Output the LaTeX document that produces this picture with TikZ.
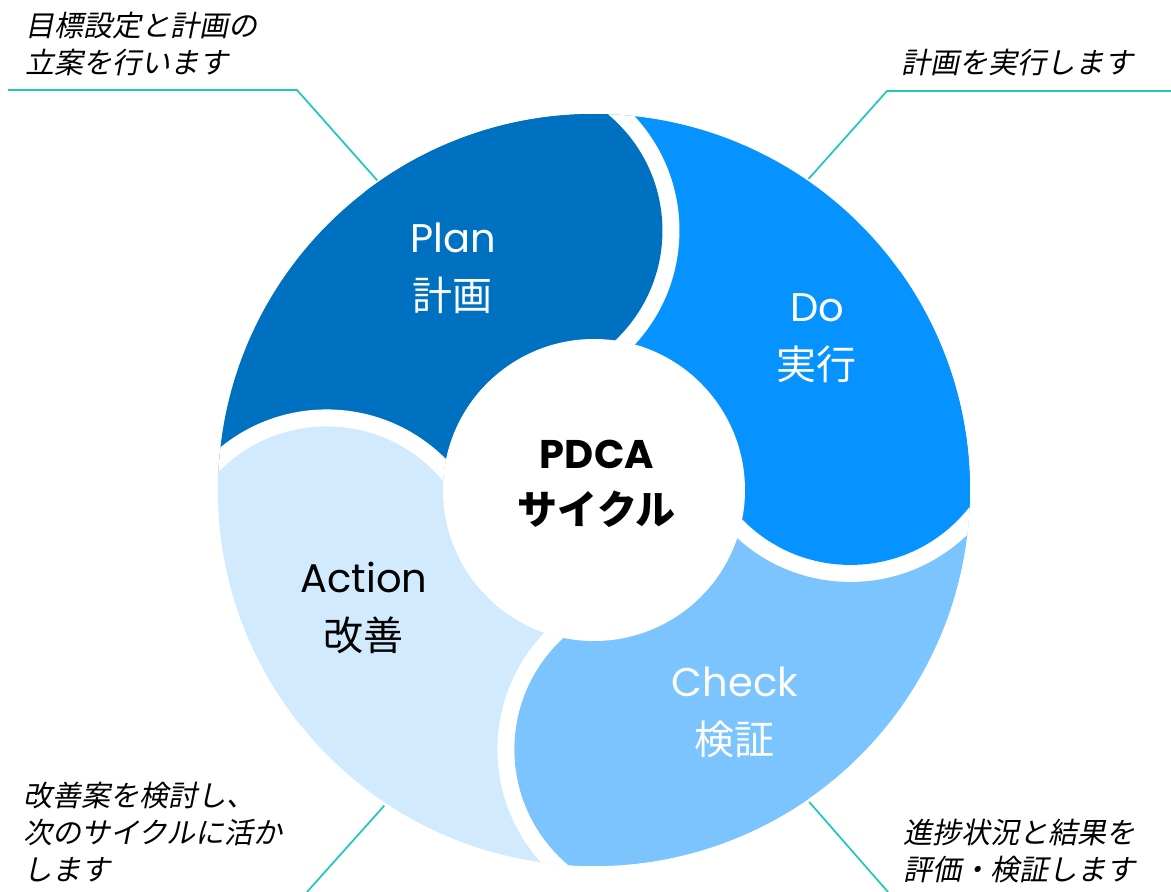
\documentclass[tikz,border=0pt]{standalone}
\usepackage{fontspec}
\setmainfont{Poppins}
\newfontfamily\jpfont{Noto Sans CJK JP}
\newfontfamily\jpslant{Noto Sans CJK JP}[FakeSlant=0.2]
\usetikzlibrary{calc}
\definecolor{pdcaplan}{HTML}{0070C0}
\definecolor{pdcado}{HTML}{0793FF}
\definecolor{pdcacheck}{HTML}{7BC4FD}
\definecolor{pdcaaction}{HTML}{D2EAFD}
\definecolor{pdcateal}{HTML}{1CC8BA}
% one ring quarter between two boundaries (outer/inner angles)
\newcommand\segcore[4]{(#1:376pt) arc[start angle=#1, end angle=#3, radius=376pt] -- (#4:151pt) arc[start angle=#4, end angle=#2, radius=151pt] -- cycle}

\begin{document}
\begin{tikzpicture}[
  x=1pt, y=1pt,
  seglbl/.style={align=center, inner sep=0pt, font=\fontsize{40}{58}\selectfont},
  hubtxt/.style={align=center, inner sep=0pt, font=\fontsize{40}{56}\selectfont\bfseries},
  note/.style={align=left, anchor=west, inner sep=0pt, font=\jpslant\fontsize{29}{37}\selectfont},
  leader/.style={draw=pdcateal, line width=1.7pt}
]
\useasboundingbox (-594,-402) rectangle (577,490);

% boundaries between the quarters
\coordinate (o1) at (87.9:376pt);  \coordinate (i1) at (82:151pt);
\coordinate (o2) at (-2.7:376pt);  \coordinate (i2) at (-11.4:151pt);
\coordinate (o3) at (-94:376pt);   \coordinate (i3) at (-101.8:151pt);
\coordinate (o4) at (177.4:376pt); \coordinate (i4) at (177:151pt);
\foreach \k in {1,...,4}{
  \coordinate (m\k) at ($(i\k)!0.5!(o\k)$);
  \coordinate (c\k) at ($(m\k)!100pt!90:(o\k)$);
}

% quarters
\fill[pdcaplan] \segcore{177.4}{177}{87.9}{82};
\fill[pdcado] \segcore{87.9}{82}{-2.7}{-11.4};
\fill[pdcacheck] \segcore{-2.7}{-11.4}{-94}{-101.8};
\fill[pdcaaction] \segcore{-94}{-101.8}{-182.6}{-183};

% rounded tongue of each quarter into the next one
\foreach \b/\col/\p/\q/\r/\s in {1/pdcaplan/87.9/82/-2.7/-11.4,
    2/pdcado/-2.7/-11.4/-94/-101.8, 3/pdcacheck/-94/-101.8/-182.6/-183,
    4/pdcaaction/177.4/177/87.9/82}{
  \begin{scope}
    \clip \segcore{\p}{\q}{\r}{\s};
    \fill[white] (c\b) circle (168pt);
  \end{scope}
  \begin{scope}
    \clip (0,0) circle (376pt);
    \fill[\col] (c\b) circle (151pt);
  \end{scope}
}

\node[circle, fill=white, minimum size=302pt, inner sep=0pt] (hub) at (0,0) {};
\node[hubtxt] (hubLbl) at (3,6) {PDCA\\{\jpfont サイクル}};

\node[seglbl, text=white] (planLbl) at (-141,222) {Plan\\{\jpfont 計画}};
\node[seglbl, text=white] (doLbl) at (223,152) {Do\\{\jpfont 実行}};
\node[seglbl, text=white] (checkLbl) at (141,-222) {Check\\{\jpfont 検証}};
\node[seglbl] (actionLbl) at (-230,-118) {Action\\{\jpfont 改善}};

% notes and leaders
\node[note] (planNote) at (-569,446) {目標設定と計画の\\立案を行います};
\node[note] (doNote) at (307,427) {計画を実行します};
\node[note] (actionNote) at (-571,-342) {改善案を検討し、\\次のサイクルに活か\\します};
\node[note] (checkNote) at (309,-361) {進捗状況と結果を\\評価・検証します};

\coordinate (planTip) at (125:378pt);
\coordinate (planBend) at (-297,400);
\coordinate (planEnd) at (-586,400);
\coordinate (doTip) at (55.4:378pt);
\coordinate (doBend) at (293,399);
\coordinate (doEnd) at (577,399);
\coordinate (actionTip) at (236.4:379pt);
\coordinate (actionEnd) at (-287,-402);
\coordinate (checkTip) at (-55.4:379pt);
\coordinate (checkEnd) at (294,-402);
\draw[leader] (planEnd) -- (planBend) -- (planTip);
\draw[leader] (doTip) -- (doBend) -- (doEnd);
\draw[leader] (actionTip) -- (actionEnd);
\draw[leader] (checkTip) -- (checkEnd);
\end{tikzpicture}
\end{document}
